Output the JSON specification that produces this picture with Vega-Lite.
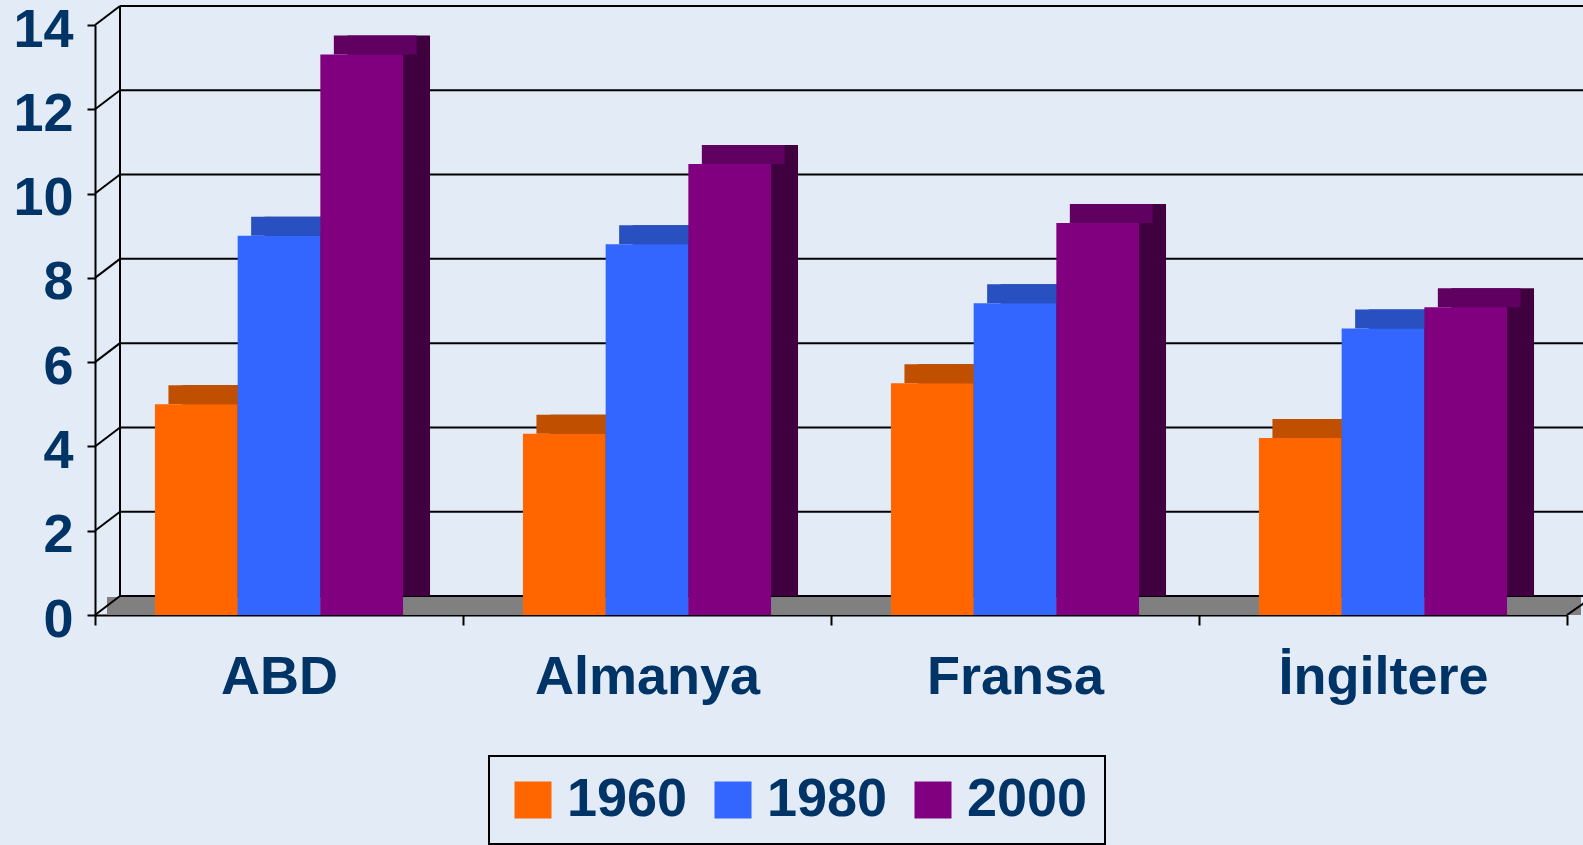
{
  "$schema": "https://vega.github.io/schema/vega-lite/v6.json",
  "width": 1472,
  "height": 590,
  "autosize": "none",
  "padding": {"left": 95, "top": 25, "right": 16, "bottom": 230},
  "background": "#E3EBF6",
  "config": {"view": {"stroke": null}, "font": "Liberation Sans", "legend": {"strokeWidth": 2}},
  "datasets": {
    "bars": [
      {"country": "ABD", "year": "1960", "value": 5.0},
      {"country": "ABD", "year": "1980", "value": 9.0},
      {"country": "ABD", "year": "2000", "value": 13.3},
      {"country": "Almanya", "year": "1960", "value": 4.3},
      {"country": "Almanya", "year": "1980", "value": 8.8},
      {"country": "Almanya", "year": "2000", "value": 10.7},
      {"country": "Fransa", "year": "1960", "value": 5.5},
      {"country": "Fransa", "year": "1980", "value": 7.4},
      {"country": "Fransa", "year": "2000", "value": 9.3},
      {"country": "İngiltere", "year": "1960", "value": 4.2},
      {"country": "İngiltere", "year": "1980", "value": 6.8},
      {"country": "İngiltere", "year": "2000", "value": 7.3}
    ],
    "ticks": [
      {"tick": 0}, {"tick": 2}, {"tick": 4}, {"tick": 6},
      {"tick": 8}, {"tick": 10}, {"tick": 12}, {"tick": 14}
    ]
  },
  "resolve": {
    "scale": {"x": "independent", "xOffset": "independent", "color": "independent"},
    "axis": {"y": "independent", "x": "independent"}
  },
  "layer": [
    {
      "data": {"values": [{}]},
      "mark": {"type": "rect", "color": "#808080", "xOffset": 12, "x2Offset": 14, "y2Offset": -18},
      "encoding": {
        "x": {"datum": 0, "type": "quantitative", "scale": {"domain": [0, 1]}, "axis": null},
        "x2": {"datum": 1},
        "y": {"datum": 0, "type": "quantitative", "axis": null},
        "y2": {"datum": 0}
      }
    },
    {
      "data": {"name": "ticks"},
      "mark": {"type": "rule", "color": "black", "strokeWidth": 2, "xOffset": 25, "x2Offset": 27, "yOffset": -19, "y2Offset": -19},
      "encoding": {
        "x": {"datum": 0, "type": "quantitative", "scale": {"domain": [0, 1]}, "axis": null},
        "x2": {"datum": 1},
        "y": {"field": "tick", "type": "quantitative", "axis": null},
        "y2": {"field": "tick"}
      }
    },
    {
      "data": {"name": "ticks"},
      "mark": {"type": "rule", "color": "black", "strokeWidth": 2, "x2Offset": 25, "y2Offset": -19},
      "encoding": {
        "x": {"datum": 0, "type": "quantitative", "scale": {"domain": [0, 1]}, "axis": null},
        "x2": {"datum": 0},
        "y": {"field": "tick", "type": "quantitative", "axis": null},
        "y2": {"field": "tick"}
      }
    },
    {
      "data": {"values": [{}]},
      "mark": {"type": "rule", "color": "black", "strokeWidth": 2, "xOffset": 25, "yOffset": -19, "y2Offset": -19},
      "encoding": {
        "x": {"datum": 0, "type": "quantitative", "scale": {"domain": [0, 1]}, "axis": null},
        "y": {"datum": 0, "type": "quantitative", "axis": null},
        "y2": {"datum": 14}
      }
    },
    {
      "data": {"values": [{}]},
      "mark": {"type": "rule", "color": "black", "strokeWidth": 2, "x2Offset": 27, "y2Offset": -19},
      "encoding": {
        "x": {"datum": 1, "type": "quantitative", "scale": {"domain": [0, 1]}, "axis": null},
        "x2": {"datum": 1},
        "y": {"datum": 0, "type": "quantitative", "axis": null},
        "y2": {"datum": 0}
      }
    },
    {
      "data": {"name": "bars"},
      "mark": {"type": "bar", "yOffset": -19, "y2Offset": -19},
      "encoding": {
        "x": {"field": "country", "type": "nominal", "sort": null, "scale": {"paddingInner": 0, "paddingOuter": 0}, "axis": null},
        "xOffset": {"field": "year", "type": "nominal", "scale": {"paddingInner": 0, "paddingOuter": 0.725, "align": 0.725}},
        "y": {"field": "value", "type": "quantitative", "axis": null},
        "y2": {"datum": 0},
        "color": {"field": "year", "type": "nominal", "scale": {"range": ["#803000", "#1A3A90", "#400040"]}, "legend": null}
      }
    },
    {
      "data": {"name": "bars"},
      "mark": {"type": "bar", "yOffset": -19},
      "encoding": {
        "x": {"field": "country", "type": "nominal", "sort": null, "scale": {"paddingInner": 0, "paddingOuter": 0}, "axis": null},
        "xOffset": {"field": "year", "type": "nominal", "scale": {"paddingInner": 0, "paddingOuter": 0.725, "align": 0.6125}},
        "y": {"field": "value", "type": "quantitative", "axis": null},
        "y2": {"field": "value"},
        "color": {"field": "year", "type": "nominal", "scale": {"range": ["#C05000", "#2850C0", "#600060"]}, "legend": null}
      }
    },
    {
      "data": {"name": "bars"},
      "mark": {"type": "bar"},
      "encoding": {
        "x": {
          "field": "country", "type": "nominal", "sort": null,
          "scale": {"paddingInner": 0, "paddingOuter": 0},
          "axis": {
            "title": null, "tickBand": "extent", "labelAngle": 0, "labelLimit": 0,
            "domainColor": "black", "domainWidth": 2, "tickColor": "black", "tickWidth": 2, "tickSize": 10,
            "labelFont": "Liberation Sans", "labelFontSize": 54, "labelFontWeight": "bold", "labelColor": "#003366", "labelPadding": 25
          }
        },
        "xOffset": {"field": "year", "type": "nominal", "scale": {"paddingInner": 0, "paddingOuter": 0.725, "align": 0.5}},
        "y": {
          "field": "value", "type": "quantitative",
          "scale": {"domain": [0, 14], "nice": false},
          "axis": {
            "title": null, "values": [0, 2, 4, 6, 8, 10, 12, 14], "grid": false,
            "domainColor": "black", "domainWidth": 2, "tickColor": "black", "tickWidth": 2, "tickSize": 8,
            "labelFont": "Liberation Sans", "labelFontSize": 54, "labelFontWeight": "bold", "labelColor": "#003366", "labelPadding": 14,
            "labelBaseline": "alphabetic", "labelOffset": 21
          }
        },
        "y2": {"datum": 0},
        "color": {
          "field": "year", "type": "nominal",
          "scale": {"range": ["#FF6600", "#3366FF", "#800080"]},
          "legend": {
            "title": null, "orient": "none", "legendX": 394, "legendY": 731, "direction": "horizontal", "columns": 3,
            "symbolType": "square", "symbolSize": 1369, "symbolStrokeWidth": 0,
            "labelFont": "Liberation Sans", "labelFontSize": 54, "labelFontWeight": "bold", "labelColor": "#003366",
            "labelOffset": 7, "columnPadding": 18, "padding": 17,
            "strokeColor": "black", "fillColor": "#E3EBF6"
          }
        }
      }
    }
  ]
}
